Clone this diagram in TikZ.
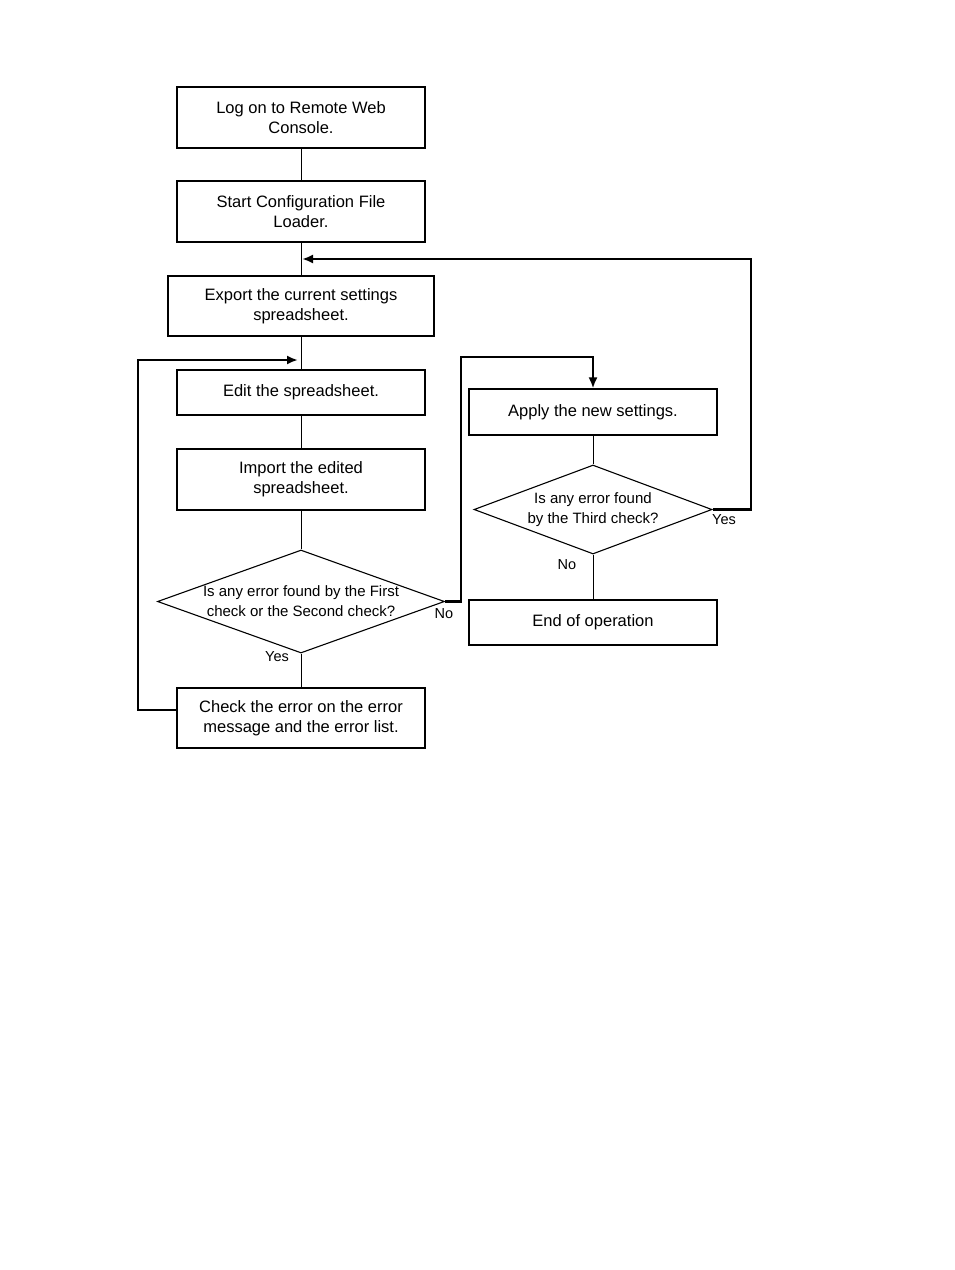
\documentclass[tikz,border=0pt]{standalone}
\usepackage{fontspec}
\setmainfont{Liberation Sans}
\usetikzlibrary{shapes.geometric,arrows.meta}

\begin{document}
\begin{tikzpicture}[
  x=1pt,y=-1pt,
  box/.style={draw,line width=1.1pt,align=center,font=\fontsize{16.5}{20}\selectfont,
              minimum width=248pt,minimum height=61pt,inner sep=2pt},
  dec/.style={draw,diamond,line width=1.1pt,align=center,inner sep=0pt,
              font=\fontsize{15}{20}\selectfont},
  lbl/.style={font=\fontsize{14.5}{17}\selectfont,inner sep=0pt},
  link/.style={line width=0.9pt},
  back/.style={line width=2.2pt,-{Latex[length=11pt,width=9pt]}},
]
\useasboundingbox (0,0) rectangle (954,1270);

% left column
\node[box] (logon) at (301,117.5) {Log on to Remote Web\\Console.};
\node[box] (start) at (301,211.5) {Start Configuration File\\Loader.};
\node[box,minimum width=266pt,minimum height=60pt] (export) at (301,306) {Export the current settings\\spreadsheet.};
\node[box,minimum height=45pt] (edit) at (301,392.5) {Edit the spreadsheet.};
\node[box] (import) at (301,479.5) {Import the edited\\spreadsheet.};
\node[dec,aspect=2.8,minimum width=287pt,minimum height=103pt] (chk12) at (301,601.5) {Is any error found by the First\\check or the Second check?};
\node[box,minimum height=60pt] (errlist) at (301,718) {Check the error on the error\\message and the error list.};

% right column
\node[box,minimum height=46pt] (apply) at (593,412) {Apply the new settings.};
\node[dec,aspect=3.1,minimum width=238pt,minimum height=89pt] (chk3) at (593,509.5) {Is any error found\\by the Third check?};
\node[box,minimum height=45pt] (finish) at (593,622.5) {End of operation};

% branch labels
\node[lbl] (no12) at (444,614) {No};
\node[lbl] (yes12) at (277,657) {Yes};
\node[lbl] (yes3) at (724,520) {Yes};
\node[lbl] (no3) at (567,565) {No};

\coordinate (retL) at (138,360);
\coordinate (tipL) at (298,360);
\coordinate (retR) at (751,259);
\coordinate (tipR) at (302,259);
\coordinate (noUp) at (461,357);

\draw[link] (logon) -- (start);
\draw[link] (start) -- (export);
\draw[link] (export) -- (edit);
\draw[link] (edit) -- (import);
\draw[link] (import) -- (chk12);
\draw[link] (chk12) -- (errlist);
\draw[link] (apply) -- (chk3);
\draw[link] (chk3) -- (finish);

\draw[back] ([yshift=8pt]errlist.west) -| (retL) -- (tipL);
\draw[back] (chk3.east) -| (retR) -- (tipR);
\draw[back] (chk12.east) -| (noUp) -| (apply.north);
\end{tikzpicture}
\end{document}
